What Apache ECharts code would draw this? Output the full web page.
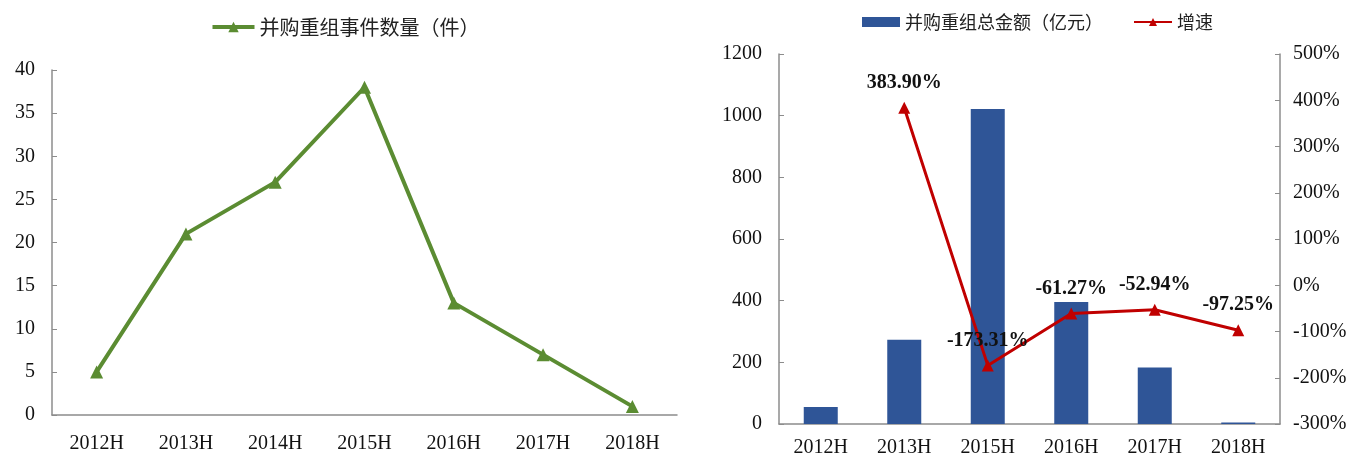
<!DOCTYPE html>
<html>
<head>
<meta charset="utf-8">
<script src="https://cdn.jsdelivr.net/npm/echarts@6/dist/echarts.min.js"></script>
<style>
    html, body { margin: 0; padding: 0; background: #fff; }
    .box { position: absolute; top: 0; height: 458px; }
    #left { left: 0; width: 690px; }
    #right { left: 690px; width: 672px; }
</style>
</head>
<body>
<div id="left" class="box"></div>
<div id="right" class="box"></div>
<script>
// 左图：并购重组事件数量
const countYears = ['2012H', '2013H', '2014H', '2015H', '2016H', '2017H', '2018H'];
const countValues = [5, 21, 27, 38, 13, 7, 1];

// 右图：并购重组总金额及增速
const amountYears = ['2012H', '2013H', '2015H', '2016H', '2017H', '2018H'];
const amountValues = [55, 273, 1022, 396, 183, 5];
const growthValues = [null, 383.90, -173.31, -61.27, -52.94, -97.25];

const serif = '"Liberation Serif", "Times New Roman", serif';
const cjk = '"Noto Sans CJK SC", sans-serif';
const axisColor = '#8c8c8c';

const valueAxisBase = {
    type: 'value',
    axisLine: { show: true, lineStyle: { color: axisColor, width: 1.5 } },
    axisTick: { show: true, inside: true, length: 5, lineStyle: { color: axisColor } },
    axisLabel: { color: '#111', fontFamily: serif, fontSize: 20, margin: 17, formatter: v => String(v) },
    splitLine: { show: false }
}

const catAxisBase = {
    type: 'category',
    axisLine: { show: true, lineStyle: { color: axisColor, width: 1.5 } },
    axisTick: { show: false },
    axisLabel: { color: '#111', fontFamily: serif, fontSize: 20, margin: 19 }
}

const leftChart = echarts.init(document.getElementById('left'));
leftChart.setOption({
    animation: false,
    legend: {
        top: 12,
        left: 'center',
        itemWidth: 42,
        itemHeight: 13,
        lineStyle: { width: 4 },
        textStyle: { fontFamily: cjk, fontSize: 20, color: '#222' },
        data: ['并购重组事件数量（件）']
    },
    grid: { left: 52, top: 70, width: 625, height: 345 },
    xAxis: Object.assign({}, catAxisBase, { data: countYears }),
    yAxis: Object.assign({}, valueAxisBase, { min: 0, max: 40, interval: 5 }),
    series: [{
        name: '并购重组事件数量（件）',
        type: 'line',
        data: countValues,
        symbol: 'triangle',
        symbolSize: 13,
        lineStyle: { color: '#5b8c32', width: 4 },
        itemStyle: { color: '#5b8c32' }
    }]
});

const rightChart = echarts.init(document.getElementById('right'));
rightChart.setOption({
    animation: false,
    legend: {
        top: 8,
        left: 167,
        itemGap: 30,
        itemWidth: 38,
        itemHeight: 10,
        textStyle: { fontFamily: cjk, fontSize: 18, color: '#222' },
        data: [{ name: '并购重组总金额（亿元）', icon: 'rect' }, '增速']
    },
    grid: { left: 89, top: 54, width: 501, height: 370 },
    xAxis: Object.assign({}, catAxisBase, {
        data: amountYears,
        axisLabel: { color: '#111', fontFamily: serif, fontSize: 20, margin: 14 }
    }),
    yAxis: [
        Object.assign({}, valueAxisBase, { min: 0, max: 1200, interval: 200 }),
        Object.assign({}, valueAxisBase, {
            min: -300, max: 500, interval: 100, position: 'right',
            axisLabel: { color: '#111', fontFamily: serif, fontSize: 20, margin: 13, formatter: '{value}%' }
        })
    ],
    series: [
        {
            name: '并购重组总金额（亿元）',
            type: 'bar',
            data: amountValues,
            barWidth: 34,
            itemStyle: { color: '#2f5597' }
        },
        {
            name: '增速',
            type: 'line',
            yAxisIndex: 1,
            data: growthValues,
            symbol: 'triangle',
            symbolSize: 12,
            lineStyle: { color: '#c00000', width: 3 },
            itemStyle: { color: '#c00000' },
            label: {
                show: true,
                position: 'top',
                distance: 9,
                fontFamily: serif,
                fontSize: 20,
                fontWeight: 'bold',
                color: '#111',
                formatter: p => p.value.toFixed(2) + '%'
            }
        }
    ]
});
</script>
</body>
</html>
